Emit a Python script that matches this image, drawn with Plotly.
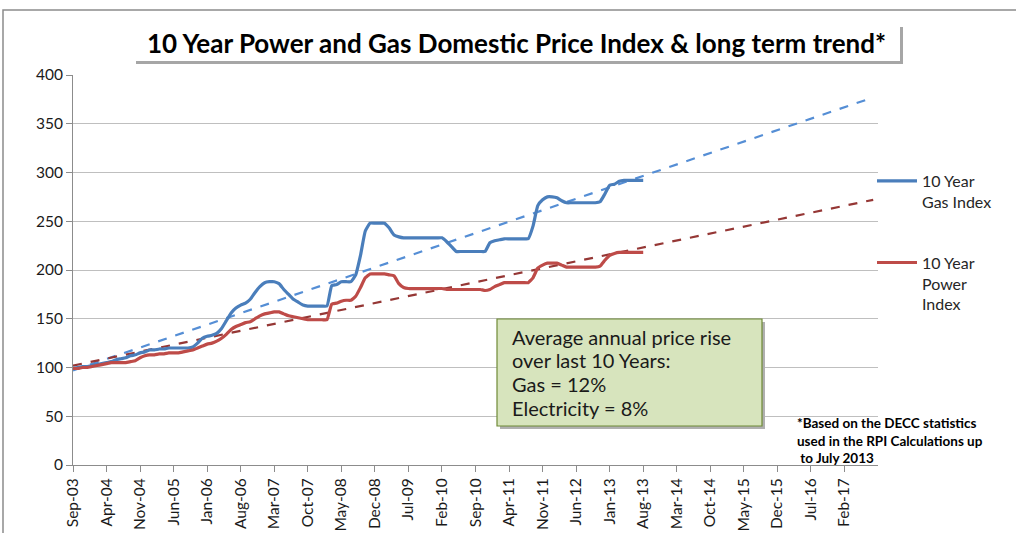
import plotly.graph_objects as go
import pandas as pd

# Monthly categories Sep-03 .. Aug-17
categories = list(pd.date_range("2003-09-01", periods=168, freq="MS").strftime("%b-%y"))
tick_labels = categories[::7]

gas_index = [99, 100, 101, 101, 102, 103, 104, 105, 106, 108,
             109, 110, 112, 113, 115, 116, 118, 118, 119, 119,
             120, 120, 120, 120, 120, 121, 125, 130, 132, 133,
             135, 140, 148, 156, 161, 164, 166, 170, 177, 183,
             187, 188, 188, 186, 180, 175, 170, 167, 164, 163,
             163, 163, 163, 163, 184, 185, 188, 188, 188, 195,
             215, 240, 248, 248, 248, 248, 243, 236, 234, 233,
             233, 233, 233, 233, 233, 233, 233, 233, 229, 224,
             219, 219, 219, 219, 219, 219, 219, 228, 230, 231,
             232, 232, 232, 232, 232, 232, 245, 266, 272, 275,
             275, 274, 271, 269, 269, 269, 269, 269, 269, 269,
             270, 278, 287, 288, 291, 292, 292, 292, 292, 292]

power_index = [99, 99, 100, 100, 101, 102, 103, 104, 105, 105,
               105, 105, 106, 107, 110, 112, 113, 113, 114, 114,
               115, 115, 115, 116, 117, 118, 120, 122, 124, 125,
               127, 130, 134, 139, 142, 144, 146, 147, 150, 153,
               155, 156, 157, 157, 155, 153, 152, 151, 150, 149,
               149, 149, 149, 149, 165, 166, 168, 169, 169, 173,
               182, 192, 196, 196, 196, 196, 195, 194, 186, 182,
               181, 181, 181, 181, 181, 181, 181, 181, 180, 180,
               180, 180, 180, 180, 180, 180, 179, 180, 183, 185,
               187, 187, 187, 187, 187, 187, 192, 202, 205, 207,
               207, 207, 205, 203, 203, 203, 203, 203, 203, 203,
               204, 210, 215, 217, 218, 218, 218, 218, 218, 218]

trend_x = ["Sep-03", "Aug-17"]
gas_trend = [97, 377]
power_trend = [102, 272]

box_lines = ["Average annual price rise", "over last 10 Years:", "Gas = 12%", "Electricity = 8%"]

FONT = "Lato"
GAS = "#4a7ebb"
POWER = "#be4b48"

fig = go.Figure()
fig.add_trace(go.Scatter(x=trend_x, y=gas_trend, mode="lines", showlegend=False,
                         line=dict(color="#558ed5", width=2.2, dash="dash"), hoverinfo="skip"))
fig.add_trace(go.Scatter(x=trend_x, y=power_trend, mode="lines", showlegend=False,
                         line=dict(color="#953735", width=2.2, dash="dash"), hoverinfo="skip"))
fig.add_trace(go.Scatter(x=categories[:len(gas_index)], y=gas_index, mode="lines",
                         name="10 Year<br>Gas Index", legendgroup="g",
                         line=dict(color=GAS, width=3.2, shape="spline", smoothing=0.4)))
fig.add_trace(go.Scatter(x=categories[:len(power_index)], y=power_index, mode="lines",
                         name="10 Year<br>Power<br>Index", legendgroup="p",
                         line=dict(color=POWER, width=3.2, shape="spline", smoothing=0.4)))

W, H = 1016, 533
PL, PT, PR, PB = 73, 75, 878, 465  # plot area in screen px
L, T, R, B = PL, PT, W - PR, H - PB
pw, ph = PR - PL, PB - PT

def px(x):
    return (x - PL) / pw

def py(y):
    return (PB - y) / ph

shapes = [
    # outer chart frame
    dict(type="rect", xref="paper", yref="paper", x0=px(3), x1=px(1030), y0=py(550), y1=py(10),
         line=dict(color="#8c8c8c", width=1.5), fillcolor="rgba(0,0,0,0)", layer="below"),
    # title box shadow + box
    dict(type="rect", xref="paper", yref="paper", x0=px(136), x1=px(903), y0=py(64), y1=py(27),
         line=dict(width=0), fillcolor="#a6a6a6", layer="above"),
    dict(type="rect", xref="paper", yref="paper", x0=px(133), x1=px(900), y0=py(61), y1=py(24),
         line=dict(width=0), fillcolor="white", layer="above"),
    # text box shadow + box
    dict(type="rect", xref="paper", yref="paper", x0=px(500), x1=px(765), y0=py(429), y1=py(322),
         line=dict(width=0), fillcolor="#b0b0b0", layer="above"),
    dict(type="rect", xref="paper", yref="paper", x0=px(497), x1=px(762), y0=py(426), y1=py(319),
         line=dict(color="#6f8a36", width=1.2), fillcolor="#d7e4bd", layer="above"),
]

annotations = [
    dict(text="<b>10 Year Power and Gas Domestic Price Index & long term trend*</b>",
         xref="paper", yref="paper", x=px(516), y=py(43), showarrow=False,
         font=dict(family=FONT, size=26, color="#000000"), xanchor="center", yanchor="middle"),
    dict(text="<b>*Based on the DECC statistics<br>used in the RPI Calculations up<br> to July 2013</b>",
         xref="paper", yref="paper", x=px(795), y=py(413), showarrow=False, align="left",
         font=dict(family=FONT, size=13.5, color="#000000"), xanchor="left", yanchor="top"),
]
for line_text, ypix in zip(box_lines, [337, 360, 384, 408]):
    annotations.append(dict(text=line_text, xref="paper", yref="paper", x=px(510), y=py(ypix),
                            showarrow=False, align="left", xanchor="left", yanchor="middle",
                            font=dict(family=FONT, size=20, color="#1a1a1a")))

fig.update_layout(
    width=W, height=H,
    margin=dict(l=L, r=R, t=T, b=B, autoexpand=False),
    paper_bgcolor="white", plot_bgcolor="white",
    font=dict(family=FONT, color="#1a1a1a"),
    shapes=shapes, annotations=annotations,
    legend=dict(x=px(872), xanchor="left", y=py(164), yanchor="top",
                font=dict(family=FONT, size=16, color="#262626"),
                tracegroupgap=37, valign="top", itemwidth=40, bgcolor="rgba(0,0,0,0)"),
    xaxis=dict(type="category", categoryorder="array", categoryarray=categories,
               range=[0, 168], tickmode="array", tickvals=tick_labels, ticktext=tick_labels,
               tickangle=-90, ticks="outside", ticklen=6, tickcolor="#8c8c8c",
               showline=True, linecolor="#8c8c8c", linewidth=1, showgrid=False,
               automargin=False,
               tickfont=dict(family=FONT, size=15.5, color="#1a1a1a"), zeroline=False),
    yaxis=dict(range=[0, 400], dtick=50, ticks="outside", ticklen=6, tickcolor="#8c8c8c",
               showline=True, linecolor="#8c8c8c", linewidth=1, automargin=False,
               showgrid=True, gridcolor="#bfbfbf", gridwidth=1, zeroline=False,
               tickfont=dict(family=FONT, size=15.5, color="#1a1a1a")),
)

fig.write_html("out.html", config={"displayModeBar": False},
               post_script="document.body.style.margin='0';document.body.style.overflow='hidden';")
